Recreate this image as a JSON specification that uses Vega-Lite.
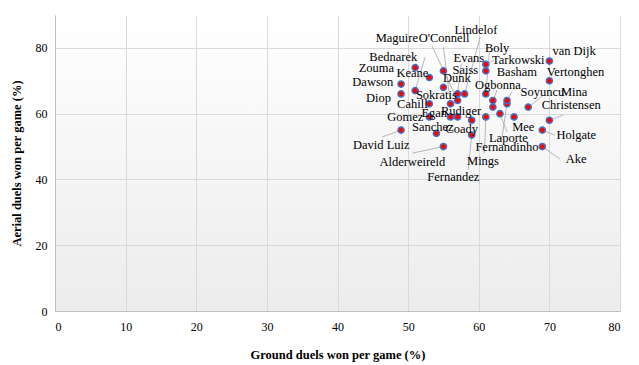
{
  "$schema": "https://vega.github.io/schema/vega-lite/v6.json",
  "width": 565,
  "height": 296,
  "autosize": {"type": "none"},
  "padding": {"left": 55, "top": 15, "right": 19, "bottom": 54},
  "background": "#ffffff",
  "config": {
    "font": "Liberation Serif, DejaVu Serif, serif",
    "view": {
      "stroke": null,
      "fill": {"gradient": "linear", "x1": 0, "y1": 0, "x2": 0, "y2": 1,
        "stops": [{"offset": 0, "color": "#ffffff"}, {"offset": 1, "color": "#ececec"}]}
    },
    "axis": {
      "labelFont": "Liberation Serif, DejaVu Serif, serif",
      "titleFont": "Liberation Serif, DejaVu Serif, serif",
      "labelFontSize": 12,
      "titleFontSize": 12.5,
      "titleFontWeight": "bold",
      "labelColor": "#000000",
      "titleColor": "#000000",
      "gridColor": "#d9d9d9",
      "domainColor": "#bfbfbf",
      "ticks": false
    }
  },
  "data": {
    "values": [
      {"name": "Dawson", "ground": 49, "aerial": 69, "lx": 45.0, "ly": 69.6, "ex": null, "ey": null},
      {"name": "Diop", "ground": 49, "aerial": 66, "lx": 45.8, "ly": 64.7, "ex": null, "ey": null},
      {"name": "Zouma", "ground": 51, "aerial": 74, "lx": 45.5, "ly": 73.9, "ex": null, "ey": null},
      {"name": "Bednarek", "ground": 51, "aerial": 67, "lx": 47.9, "ly": 77.2, "ex": 52.4, "ey": 77.2},
      {"name": "Keane", "ground": 53, "aerial": 71, "lx": 50.6, "ly": 72.3, "ex": null, "ey": null},
      {"name": "Saiss", "ground": 55, "aerial": 73, "lx": 58.1, "ly": 73.3, "ex": null, "ey": null},
      {"name": "Dunk", "ground": 55, "aerial": 68, "lx": 56.9, "ly": 70.8, "ex": null, "ey": null},
      {"name": "Cahill", "ground": 53, "aerial": 63, "lx": 50.6, "ly": 62.9, "ex": null, "ey": null},
      {"name": "Evans", "ground": 57, "aerial": 66, "lx": 58.6, "ly": 76.9, "ex": 57.5, "ey": 75.1},
      {"name": "Lindelof", "ground": 58, "aerial": 66, "lx": 59.6, "ly": 85.4, "ex": 60.2, "ey": 83.3},
      {"name": "Maguire", "ground": 57, "aerial": 64, "lx": 48.4, "ly": 83.0, "ex": 53.4, "ey": 80.5},
      {"name": "O'Connell", "ground": 56, "aerial": 63, "lx": 55.1, "ly": 83.0, "ex": 55.0, "ey": 80.2},
      {"name": "Sokratis", "ground": 62, "aerial": 62, "lx": 54.0, "ly": 65.7, "ex": null, "ey": null},
      {"name": "Tarkowski", "ground": 61, "aerial": 75, "lx": 65.6, "ly": 76.3, "ex": 62.2, "ey": 76.3},
      {"name": "Basham", "ground": 61, "aerial": 73, "lx": 65.4, "ly": 72.6, "ex": null, "ey": null},
      {"name": "Boly", "ground": 61, "aerial": 66, "lx": 62.6, "ly": 79.9, "ex": 61.5, "ey": 78.7},
      {"name": "Ogbonna", "ground": 62, "aerial": 64, "lx": 62.7, "ly": 68.7, "ex": 62.6, "ey": 67.2},
      {"name": "Fernandinho", "ground": 64, "aerial": 63, "lx": 64.0, "ly": 49.8, "ex": 63.2, "ey": 51.5},
      {"name": "Soyuncu", "ground": 64, "aerial": 64, "lx": 69.0, "ly": 66.6, "ex": 64.7, "ey": 66.6},
      {"name": "Mina", "ground": 67, "aerial": 62, "lx": 73.5, "ly": 66.6, "ex": 69.0, "ey": 65.3},
      {"name": "van Dijk", "ground": 70, "aerial": 76, "lx": 73.5, "ly": 79.0, "ex": null, "ey": null},
      {"name": "Vertonghen", "ground": 70, "aerial": 70, "lx": 73.7, "ly": 72.6, "ex": null, "ey": null},
      {"name": "Christensen", "ground": 70, "aerial": 58, "lx": 73.1, "ly": 62.6, "ex": 72.0, "ey": 59.6},
      {"name": "Holgate", "ground": 69, "aerial": 55, "lx": 73.8, "ly": 53.5, "ex": 70.8, "ey": 53.5},
      {"name": "Ake", "ground": 69, "aerial": 50, "lx": 73.8, "ly": 46.2, "ex": 71.5, "ey": 46.2},
      {"name": "Mee", "ground": 65, "aerial": 59, "lx": 66.3, "ly": 55.9, "ex": null, "ey": null},
      {"name": "Laporte", "ground": 63, "aerial": 60, "lx": 64.2, "ly": 52.6, "ex": 64.0, "ey": 54.4},
      {"name": "Mings", "ground": 61, "aerial": 59, "lx": 60.6, "ly": 45.6, "ex": 60.8, "ey": 48.0},
      {"name": "Coady", "ground": 59, "aerial": 58, "lx": 57.6, "ly": 55.3, "ex": null, "ey": null},
      {"name": "Fernandez", "ground": 59, "aerial": 53.5, "lx": 56.4, "ly": 40.7, "ex": 58.5, "ey": 42.9},
      {"name": "Egan", "ground": 56, "aerial": 59, "lx": 53.7, "ly": 60.2, "ex": null, "ey": null},
      {"name": "Rudiger", "ground": 57, "aerial": 59, "lx": 57.5, "ly": 60.8, "ex": null, "ey": null},
      {"name": "Gomez", "ground": 53, "aerial": 59, "lx": 49.6, "ly": 59.0, "ex": null, "ey": null},
      {"name": "Sanchez", "ground": 54, "aerial": 54, "lx": 53.5, "ly": 55.9, "ex": null, "ey": null},
      {"name": "David Luiz", "ground": 49, "aerial": 55, "lx": 46.2, "ly": 50.5, "ex": 46.3, "ey": 52.9},
      {"name": "Alderweireld", "ground": 55, "aerial": 50, "lx": 50.6, "ly": 45.3, "ex": 50.6, "ey": 48.0}
    ]
  },
  "layer": [
    {
      "transform": [{"filter": "datum.ex != null"}],
      "mark": {"type": "rule", "color": "#a6a6a6", "strokeWidth": 0.8},
      "encoding": {
        "x": {"field": "ground", "type": "quantitative",
          "scale": {"domain": [0, 80], "nice": false},
          "axis": {"values": [0, 10, 20, 30, 40, 50, 60, 70, 80], "title": "Ground duels won per game (%)", "labelPadding": 10, "titlePadding": 16}},
        "y": {"field": "aerial", "type": "quantitative",
          "scale": {"domain": [0, 90], "nice": false},
          "axis": {"values": [0, 10, 20, 30, 40, 50, 60, 70, 80, 90], "title": "Aerial duels won per game (%)", "labelPadding": 8, "titlePadding": 12}},
        "x2": {"field": "ex"},
        "y2": {"field": "ey"}
      }
    },
    {
      "mark": {"type": "circle", "color": "#ff0000", "opacity": 1, "stroke": "#4472c4", "strokeWidth": 1.5, "size": 38},
      "encoding": {
        "x": {"field": "ground", "type": "quantitative"},
        "y": {"field": "aerial", "type": "quantitative"}
      }
    },
    {
      "mark": {"type": "text", "font": "Liberation Serif, DejaVu Serif, serif", "fontSize": 12.5, "color": "#000000", "align": "center", "baseline": "middle"},
      "encoding": {
        "x": {"field": "lx", "type": "quantitative"},
        "y": {"field": "ly", "type": "quantitative"},
        "text": {"field": "name", "type": "nominal"}
      }
    }
  ]
}
